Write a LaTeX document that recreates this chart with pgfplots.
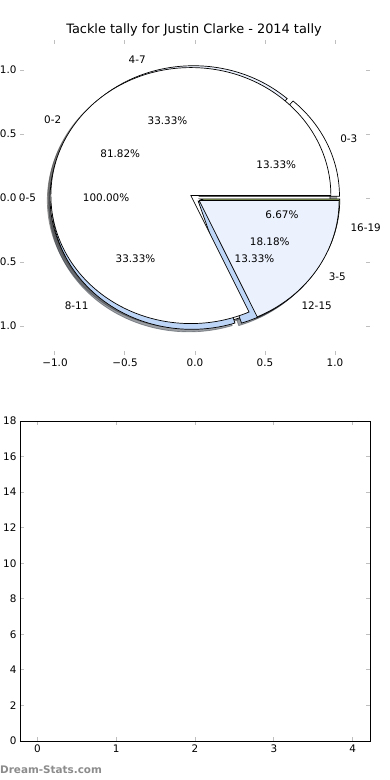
\documentclass[border=0pt]{standalone}
\usepackage{fontspec}
\setmainfont{DejaVu Sans}
\usepackage{pgfplots}
\pgfplotsset{compat=1.18}
\definecolor{paleblue}{HTML}{EBF1FD}
\definecolor{midblue}{HTML}{BDD5F7}
\definecolor{pgreen}{HTML}{A9C46C}
\definecolor{wmgrey}{HTML}{8C8C8C}
\definecolor{shwhite}{rgb}{0.3,0.3,0.3}
\definecolor{shpale}{rgb}{0.276,0.283,0.298}
\definecolor{shblue}{rgb}{0.222,0.251,0.290}
\definecolor{shgreen}{rgb}{0.199,0.230,0.127}
\newcommand{\lbl}{\fontsize{10.4}{12.5}\selectfont}
% wedge of a pie: #1 explode, #2 start angle, #3 end angle, #4 dx, #5 dy
\newcommand{\wedgepath}[5]{(axis cs:{#1*cos((#2+#3)/2)+#4},{#1*sin((#2+#3)/2)+#5}) -- ++({#2}:140pt and 128pt) arc[start angle={#2}, end angle={#3}, x radius=140pt, y radius=128pt] -- cycle}
\newcommand{\pwedge}[4]{\filldraw[fill=#4, draw=black, line width=0.7pt] \wedgepath{#1}{#2}{#3}{0}{0};}
\newcommand{\pshadow}[4]{\filldraw[fill=#4, draw=#4, opacity=0.5, line width=0.7pt] \wedgepath{#1}{#2}{#3}{-0.02}{-0.02};}
% labels: #1 explode, #2 a1, #3 a2, #4 anchor, #5 label, #6 percent
\newcommand{\plabels}[6]{%
  \node[anchor=#4, inner sep=0pt, font=\lbl] at (axis cs:{(1.1+#1)*cos((#2+#3)/2)},{(1.1+#1)*sin((#2+#3)/2)}) {#5};
  \node[anchor=center, inner sep=0pt, font=\lbl] at (axis cs:{(0.6+#1)*cos((#2+#3)/2)},{(0.6+#1)*sin((#2+#3)/2)}) {#6};}
\begin{document}
\begin{tikzpicture}
\path[use as bounding box, clip] (0pt,-780pt) rectangle (390pt,0pt);
\fill[white] (0pt,-780pt) rectangle (390pt,0pt);
\node[font=\fontsize{12.9}{15}\selectfont] at (194pt,-30pt) {Tackle tally for Justin Clarke - 2014 tally};
\begin{axis}[at={(20pt,-355pt)}, anchor=south west, width=350pt, height=315pt, scale only axis,
  xmin=-1.25, xmax=1.25, ymin=-1.2266, ymax=1.2344, clip=false,
  xtick={-1,-0.5,0,0.5,1}, xticklabels={−1.0,−0.5,0.0,0.5,1.0},
  ytick={-1,-0.5,0,0.5,1}, yticklabels={−1.0,−0.5,0.0,0.5,1.0},
  tick label style={font=\lbl}, axis line style={draw=none},
  major tick length=4pt, tick style={gray!50, line width=1pt}]
% Pie A: 0-5 = 1 (of 1); Pie C: 0-3=2, 4-7=5, 8-11=5, 12-15=2, 16-19=1 (of 15); Pie B: 0-2=9, 3-5=2 (of 11)
% shadows
\pshadow{0.035}{0}{360}{shwhite}
\pshadow{0.035}{360*0/15}{360*2/15}{shwhite}
\pshadow{0.035}{360*2/15}{360*7/15}{shpale}
\pshadow{0.035}{360*7/15}{360*12/15}{shblue}
\pshadow{0.035}{360*12/15}{360*14/15}{shblue}
\pshadow{0.035}{360*14/15}{360*15/15}{shgreen}
\pshadow{0.035}{360*0/11}{360*9/11}{shwhite}
\pshadow{0.035}{360*9/11}{360*11/11}{shpale}
% Pie A
\filldraw[fill=white, draw=black, line width=0.7pt] (axis cs:{0.035*cos(180)},{0.035*sin(180)}) ellipse [x radius=140pt, y radius=128pt];
% Pie C
\pwedge{0.035}{360*0/15}{360*2/15}{white}
\pwedge{0.035}{360*2/15}{360*7/15}{paleblue}
\pwedge{0.035}{360*7/15}{360*12/15}{midblue}
\pwedge{0.035}{360*12/15}{360*14/15}{midblue}
\pwedge{0.035}{360*14/15}{360*15/15}{pgreen}
% Pie B
\pwedge{0.035}{360*0/11}{360*9/11}{white}
\pwedge{0.035}{360*9/11}{360*11/11}{paleblue}
% labels
\plabels{0.035}{0}{360}{east}{0-5}{100.00\%}
\plabels{0.035}{360*0/15}{360*2/15}{west}{0-3}{13.33\%}
\plabels{0.035}{360*2/15}{360*7/15}{east}{4-7}{33.33\%}
\plabels{0.035}{360*7/15}{360*12/15}{east}{8-11}{33.33\%}
\plabels{0.035}{360*12/15}{360*14/15}{west}{12-15}{13.33\%}
\plabels{0.035}{360*14/15}{360*15/15}{west}{16-19}{6.67\%}
\plabels{0.035}{360*0/11}{360*9/11}{east}{0-2}{81.82\%}
\plabels{0.035}{360*9/11}{360*11/11}{west}{3-5}{18.18\%}
\end{axis}
\begin{axis}[at={(20pt,-741pt)}, anchor=south west, width=350pt, height=320pt, scale only axis,
  xmin=-0.22, xmax=4.22, ymin=0, ymax=18,
  xtick={0,1,2,3,4}, ytick={0,2,4,6,8,10,12,14,16,18},
  /pgf/number format/assume math mode=true,
  tick label style={font=\lbl}, axis line style={line width=0.8pt},
  major tick length=4pt, tick style={gray!50, line width=1pt}]
\end{axis}
\node[anchor=west, inner sep=0pt, text=wmgrey, font=\fontsize{10.4}{12.5}\selectfont\bfseries] at (0pt,-770pt) {Dream-Stats.com};
\end{tikzpicture}
\end{document}
